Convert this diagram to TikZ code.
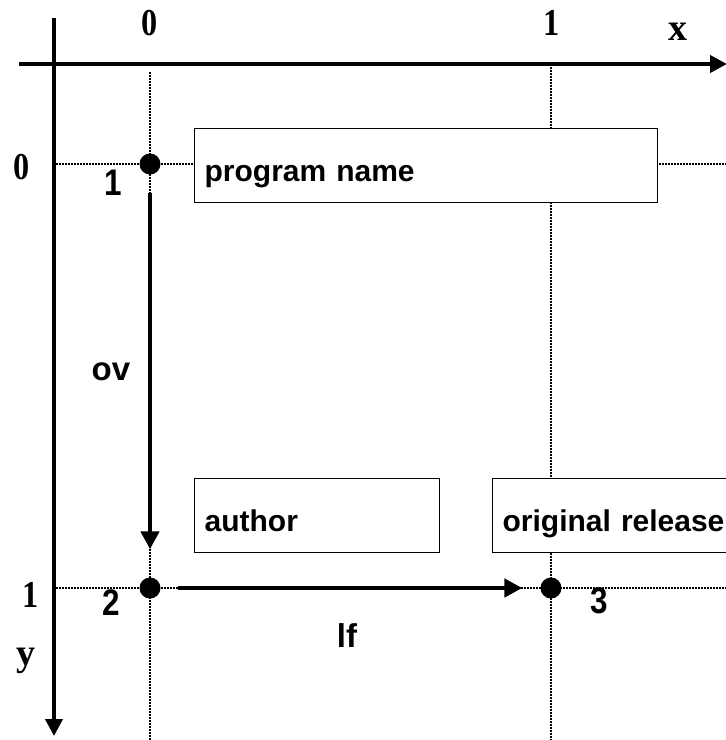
\documentclass[tikz,border=0pt]{standalone}
\usepackage{fontspec}
\setmainfont{Liberation Serif}
\setsansfont{Liberation Sans}
\usetikzlibrary{arrows.meta}

\newcommand{\boxfont}{\sffamily\bfseries\fontsize{30}{36}\selectfont}
\newcommand{\tagfont}{\sffamily\bfseries\fontsize{33}{40}\selectfont}
\newcommand{\axisfont}{\rmfamily\bfseries\fontsize{38}{44}\selectfont}
% narrow, tall glyphs for the axis labels and position numbers
\newcommand{\narrow}[1]{\scalebox{0.85}[1]{#1}}
\tikzset{
            field/.style={draw, line width=1.3pt, fill=white, anchor=north west,
                minimum height=74pt, inner xsep=10pt, inner ysep=0pt,
                text height=32pt, text depth=0pt, align=left, font=\boxfont},
            guide/.style={line width=1.5pt, dash pattern=on 1.5pt off 1.5pt},
            vertex/.style={circle, fill, inner sep=0pt, minimum size=21pt},
            tag/.style={anchor=base, inner sep=0pt, font=\tagfont},
            axislabel/.style={inner sep=0pt, font=\axisfont},
            flow/.style={-{Triangle[length=18pt,width=18pt]}, line width=4.5pt}
        }

\begin{document}
\begin{tikzpicture}[x=1pt, y=-1pt]
                \clip (0,0) rectangle (726,740);
                % grid lines through the two positions
                \coordinate (gx0) at (150,72);  \coordinate (gx0e) at (150,740);
                \coordinate (gx1) at (551,67);  \coordinate (gx1e) at (551,740);
                \coordinate (gy0) at (56,164);  \coordinate (gy0e) at (726,164);
                \coordinate (gy1) at (56,588);  \coordinate (gy1e) at (726,588);
                \draw[guide] (gx0) -- (gx0e);
                \draw[guide] (gx1) -- (gx1e);
                \draw[guide] (gy0) -- (gy0e);
                \draw[guide] (gy1) -- (gy1e);

                % fields
                \node[field, text width=443pt] (progname) at (194,128) {program name};
                \node[field, text width=225pt] (author) at (194,478) {author};
                \node[field, text width=240pt] (release) at (492,478) {original release};

                % positions
                \node[vertex] (p1) at (150,164) {};
                \node[vertex] (p2) at (150,588) {};
                \node[vertex] (p3) at (551,588) {};
                \node[tag, font=\sffamily\bfseries\fontsize{37}{44}\selectfont] (n1) at (113,195) {\narrow{1}};
                \node[tag, font=\sffamily\bfseries\fontsize{37}{44}\selectfont] (n2) at (111,615) {\narrow{2}};
                \node[tag, font=\sffamily\bfseries\fontsize{37}{44}\selectfont] (n3) at (599,613) {\narrow{3}};

                \draw[flow, shorten <=18pt, shorten >=28pt] (p1) -- (p2);
                \draw[flow, shorten <=17pt, shorten >=18pt] (p2) -- (p3);
                \node[tag] (ov) at (111,380) {ov};
                \node[tag] (lf) at (347,647) {lf};

                % axes
                \coordinate (xstart) at (19,64);  \coordinate (xend) at (727,64);
                \coordinate (ystart) at (54,18);  \coordinate (yend) at (54,736);
                \draw[line width=4pt, -{Triangle[length=17pt,width=17pt]}] (xstart) -- (xend);
                \draw[line width=4pt, -{Triangle[length=17pt,width=17pt]}] (ystart) -- (yend);
                \node[axislabel] (x0) at (150,23) {\narrow{0}};
                \node[axislabel] (x1) at (552,23) {\narrow{1}};
                \node[axislabel] (xl) at (678,32) {x};
                \node[axislabel] (y0) at (22,167) {\narrow{0}};
                \node[axislabel] (y1) at (31,595) {\narrow{1}};
                \node[axislabel] (yl) at (26,661) {y};
            \end{tikzpicture}
\end{document}
